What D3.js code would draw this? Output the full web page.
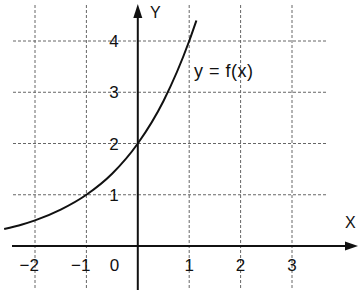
<!DOCTYPE html>
<html>
<head>
<meta charset="utf-8">
<script src="https://cdn.jsdelivr.net/npm/d3@7/dist/d3.min.js"></script>
<style>
  body { margin: 0; background: #fff; }
  text { font-family: "Liberation Sans", Arial, sans-serif; fill: #111; }
</style>
</head>
<body>
<div id="chart"></div>
<script>
// curve points
const curveX = [-2.6, -2.25, -2, -1.5, -1, -0.5, 0, 0.5, 1, 1.14];
const curveY = [0.33, 0.42, 0.5, 0.71, 1, 1.41, 2, 2.83, 4, 4.4];

// grid / tick values
const xTicks = [-2, -1, 1, 2, 3];
const yTicks = [1, 2, 3, 4];
const xTickLabels = ["\u22122", "\u22121", "1", "2", "3"];
const yTickLabels = ["1", "2", "3", "4"];
const curveLabel = "y = f(x)";

const width = 361, height = 298;

const svg = d3.select("#chart")
  .append("svg")
  .attr("width", width)
  .attr("height", height);

const x = d3.scaleLinear().domain([-2, 3]).range([35, 292]);
const y = d3.scaleLinear().domain([0, 4]).range([246, 41]);

// dashed grid
const grid = svg.append("g")
  .attr("stroke", "#666")
  .attr("stroke-width", 1)
  .attr("stroke-dasharray", "3,2");

grid.selectAll(".vgrid")
  .data(xTicks)
  .join("line")
  .attr("class", "vgrid")
  .attr("x1", (d) => x(d))
  .attr("x2", (d) => x(d))
  .attr("y1", 5)
  .attr("y2", 288);

grid.selectAll(".hgrid")
  .data(yTicks)
  .join("line")
  .attr("class", "hgrid")
  .attr("x1", 13)
  .attr("x2", 328)
  .attr("y1", (d) => y(d))
  .attr("y2", (d) => y(d));

// axes
svg.append("line")
  .attr("x1", 12)
  .attr("x2", 346)
  .attr("y1", y(0))
  .attr("y2", y(0))
  .attr("stroke", "#111")
  .attr("stroke-width", 2);

svg.append("path")
  .attr("d", `M358,${y(0)} L345,${y(0) - 4.5} L345,${y(0) + 4.5} Z`)
  .attr("fill", "#111");

svg.append("line")
  .attr("x1", x(0))
  .attr("x2", x(0))
  .attr("y1", 290)
  .attr("y2", 16)
  .attr("stroke", "#111")
  .attr("stroke-width", 2);

svg.append("path")
  .attr("d", `M${x(0)},4 L${x(0) - 4.5},18 L${x(0) + 4.5},18 Z`)
  .attr("fill", "#111");

// curve
const pts = curveX.map((d, i) => [d, curveY[i]]);
svg.append("path")
  .datum(pts)
  .attr("fill", "none")
  .attr("stroke", "#111")
  .attr("stroke-width", 2)
  .attr("d", d3.line()
    .x((d) => x(d[0]))
    .y((d) => y(d[1]))
    .curve(d3.curveMonotoneX));

// tick labels
svg.selectAll(".xlab")
  .data(xTicks)
  .join("text")
  .attr("class", "xlab")
  .attr("x", (d) => (d < 0 ? x(d) + 4 : x(d)))
  .attr("y", 271)
  .attr("text-anchor", (d) => (d < 0 ? "end" : "middle"))
  .style("font-size", "17px")
  .text((d, i) => xTickLabels[i]);

svg.append("text")
  .attr("x", 114.5)
  .attr("y", 271)
  .attr("text-anchor", "middle")
  .style("font-size", "17px")
  .text("0");

svg.selectAll(".ylab")
  .data(yTicks)
  .join("text")
  .attr("class", "ylab")
  .attr("x", 114)
  .attr("y", (d) => y(d) + 6)
  .attr("text-anchor", "middle")
  .style("font-size", "17px")
  .text((d, i) => yTickLabels[i]);

// axis names
svg.append("text")
  .attr("x", 150)
  .attr("y", 18)
  .style("font-size", "16px")
  .text("Y");

svg.append("text")
  .attr("x", 345)
  .attr("y", 228)
  .style("font-size", "16px")
  .text("X");

svg.append("text")
  .attr("x", 194)
  .attr("y", 77)
  .style("font-size", "18px")
  .style("letter-spacing", "0.5px")
  .text(curveLabel);
</script>
</body>
</html>
